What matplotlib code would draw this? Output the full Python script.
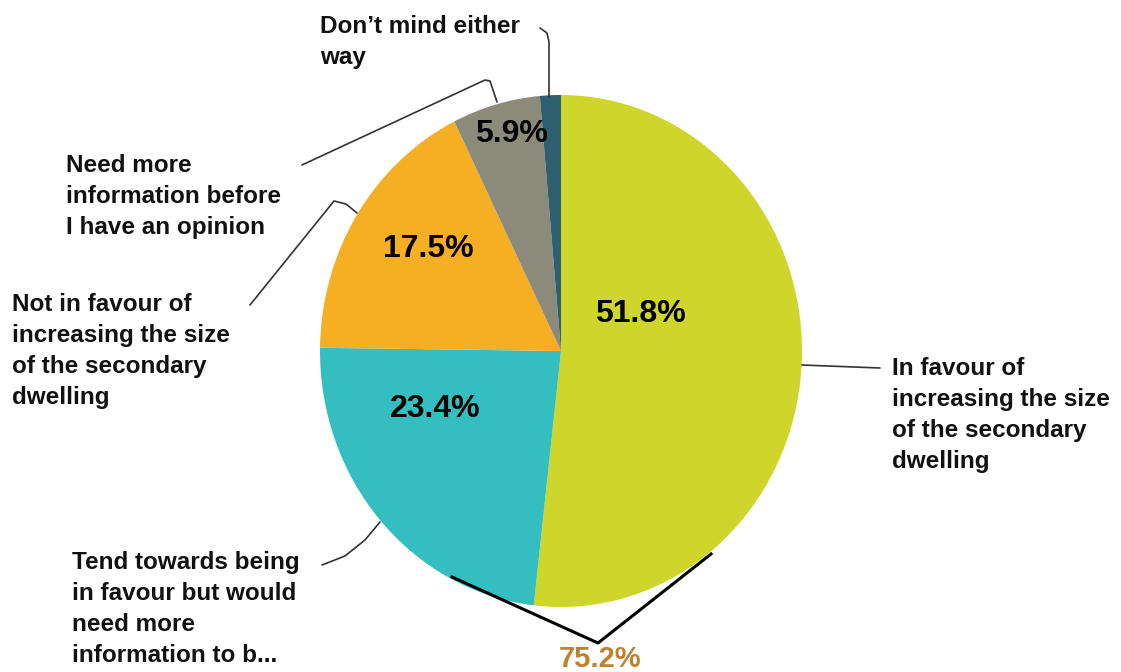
import matplotlib.pyplot as plt
import numpy as np

# survey answers, clockwise from 12 o'clock
labels = [
    "In favour of\nincreasing the size\nof the secondary\ndwelling",
    "Tend towards being\nin favour but would\nneed more\ninformation to b...",
    "Not in favour of\nincreasing the size\nof the secondary\ndwelling",
    "Need more\ninformation before\nI have an opinion",
    "Don\u2019t mind either\nway",
]
shares = [51.8, 23.4, 17.5, 5.9, 1.4]
colors = ["#cfd62b", "#34bec0", "#f6ae22", "#8c8b7b", "#2e5f6f"]
show_pct = [True, True, True, True, False]
favour_total = shares[0] + shares[1]

FONT = ["Liberation Sans Narrow", "Liberation Sans", "DejaVu Sans"]
W, H = 1121, 672
CX, CY, RX, RY = 561, 351, 241, 256


def px(x, y):
    # pixel position -> data coords of the (slightly stretched) pie
    return (x - CX) / RX, (CY - y) / RY


fig = plt.figure(figsize=(W / 100, H / 100), dpi=100)
ax = fig.add_axes([0, 0, 1, 1])
wedges, _ = ax.pie(shares, colors=colors, startangle=90, counterclock=False,
                   wedgeprops=dict(linewidth=0))
ax.set_aspect("auto")
ax.set_xlim(px(0, 0)[0], px(W, 0)[0])
ax.set_ylim(px(0, H)[1], px(0, 0)[1])
ax.axis("off")

# percentage labels inside the slices
pct_pos = [(640, 314), (435, 409), (428, 249), (511, 134), None]
for val, pos, show in zip(shares, pct_pos, show_pct):
    if show:
        ax.text(*px(*pos), f"{val}%", ha="center", va="center",
                fontsize=23, fontweight="bold", family=FONT, color="black")

# category labels
label_pos = [(892, 357), (72, 551), (12, 293), (66, 154), (320, 15)]
for text, pos in zip(labels, label_pos):
    ax.text(*px(*pos), text, ha="left", va="top", fontsize=17.5,
            fontweight="bold", family=FONT, linespacing=1.45, color="#111111")

# leader lines
leaders = [
    [(802, 365), (880, 368)],
    [(380, 522), (365, 540), (345, 556), (322, 565)],
    [(357, 213), (346, 204), (334, 201), (250, 305)],
    [(497, 102), (490, 81), (485, 80), (302, 165)],
    [(549, 97), (549, 42), (547, 33), (540, 28)],
]
for pts in leaders:
    xs, ys = zip(*[px(*p) for p in pts])
    ax.plot(xs, ys, color="#333333", lw=1.2, solid_capstyle="round")

# bracket grouping the two favourable answers
bx, by = zip(*[px(*p) for p in [(452, 577), (598, 643), (711, 554)]])
ax.plot(bx, by, color="black", lw=2.2)
ax.text(*px(600, 645), f"{favour_total:.1f}%", ha="center", va="top",
        fontsize=21, fontweight="bold", family=FONT, color="#bf812b")

fig.savefig("out.png", dpi=100, facecolor="white")
